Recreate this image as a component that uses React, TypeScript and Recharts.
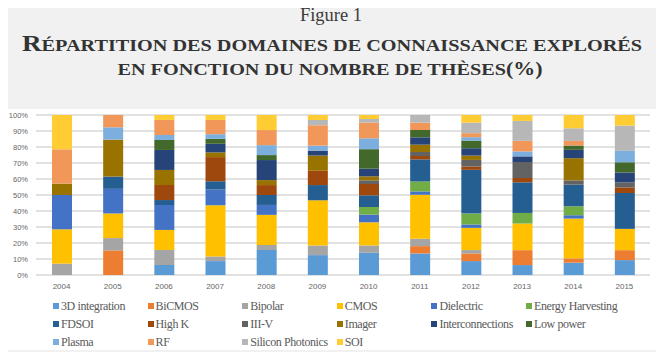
import React from "react";
import { BarChart, Bar, XAxis, YAxis, CartesianGrid } from "recharts";

const years = ["2004", "2005", "2006", "2007", "2008", "2009", "2010", "2011", "2012", "2013", "2014", "2015"];

const threeD = [0, 0, 6.25, 8.7, 15.6, 12.4, 13.9, 13.5, 8.7, 6.2, 7.7, 9.3];
const biCMOS = [0, 15.4, 0, 0, 0, 0, 0, 4.6, 4.8, 9.3, 2.7, 6.2];
const bipolar = [7.1, 7.7, 9.4, 2.9, 3.1, 6.0, 4.6, 4.6, 2.1, 0, 0, 0];
const cmos = [21.4, 15.4, 12.5, 32.0, 18.8, 28.2, 14.5, 27.6, 13.9, 16.6, 24.9, 13.3];
const dielectric = [21.4, 15.4, 15.6, 9.8, 6.2, 0, 4.8, 2.1, 2.1, 0, 2.1, 0];
const energyHarvesting = [0, 0, 0, 0, 0, 0, 4.8, 6.2, 6.8, 6.6, 5.6, 0];
const fdsoi = [0, 7.7, 3.1, 5.2, 6.2, 9.5, 7.3, 13.9, 27.4, 19.1, 13.5, 22.4];
const highK = [0, 0, 9.4, 15.1, 6.2, 8.9, 7.1, 2.1, 2.1, 2.7, 0, 3.5];
const iiiV = [0, 0, 0, 0, 0, 0, 2.3, 2.5, 4.1, 10.0, 2.7, 3.1];
const imager = [7.1, 23.1, 9.4, 2.9, 3.1, 9.5, 2.5, 4.6, 2.7, 0, 13.9, 0];
const interconnections = [0, 0, 12.5, 5.4, 12.5, 3.1, 4.8, 4.6, 4.6, 3.5, 5.2, 6.2];
const lowPower = [0, 0, 6.25, 3.1, 3.1, 0, 12.2, 4.6, 4.8, 0, 2.7, 6.4];
const plasma = [0, 7.7, 3.1, 2.9, 6.2, 3.1, 6.8, 0, 2.1, 3.1, 0, 7.1];
const rf = [21.4, 7.7, 9.4, 8.9, 9.4, 12.7, 9.8, 4.6, 2.5, 6.6, 2.9, 0];
const siliconPhotonics = [0, 0, 0, 0, 0, 3.3, 2.3, 4.8, 6.6, 12.4, 7.9, 15.8];
const soi = [21.4, 0, 3.1, 3.1, 9.4, 3.1, 2.5, 0, 4.8, 3.7, 8.3, 6.6];

const yTicks = [0, 0.1, 0.2, 0.3, 0.4, 0.5, 0.6, 0.7, 0.8, 0.9, 1];

const series = [
  { key: "s0", name: "3D integration", values: threeD, color: "#5B9BD5" },
  { key: "s1", name: "BiCMOS", values: biCMOS, color: "#ED7D31" },
  { key: "s2", name: "Bipolar", values: bipolar, color: "#A5A5A5" },
  { key: "s3", name: "CMOS", values: cmos, color: "#FFC000" },
  { key: "s4", name: "Dielectric", values: dielectric, color: "#4472C4" },
  { key: "s5", name: "Energy Harvesting", values: energyHarvesting, color: "#70AD47" },
  { key: "s6", name: "FDSOI", values: fdsoi, color: "#255E91" },
  { key: "s7", name: "High K", values: highK, color: "#9E480E" },
  { key: "s8", name: "III-V", values: iiiV, color: "#636363" },
  { key: "s9", name: "Imager", values: imager, color: "#997300" },
  { key: "s10", name: "Interconnections", values: interconnections, color: "#264478" },
  { key: "s11", name: "Low power", values: lowPower, color: "#43682B" },
  { key: "s12", name: "Plasma", values: plasma, color: "#7CAFDD" },
  { key: "s13", name: "RF", values: rf, color: "#F1975A" },
  { key: "s14", name: "Silicon Photonics", values: siliconPhotonics, color: "#B7B7B7" },
  { key: "s15", name: "SOI", values: soi, color: "#FFCD33" },
];

const data = years.map((y, i) => {
  const row: any = { year: y };
  series.forEach((s) => {
    row[s.key] = s.values[i];
  });
  return row;
});

export default function App() {
  return (
    <div
      style={{
        position: "relative",
        width: 664,
        height: 360,
        margin: -8,
        background: "#f1f1f1",
        overflow: "hidden",
      }}
    >
      <svg width={664} height={100} style={{ position: "absolute", left: 0, top: 0 }}>
        <text
          x={331}
          y={21}
          textAnchor="middle"
          fontFamily="Liberation Serif"
          fontSize={18.5}
          fill="#3a3a3a"
        >
          Figure 1
        </text>
        <text
          x={332}
          y={51}
          textAnchor="middle"
          fontFamily="Liberation Serif"
          fontWeight="bold"
          fill="#333"
          textLength={620}
          lengthAdjust="spacingAndGlyphs"
        >
          <tspan fontSize={23.5}>R</tspan>
          <tspan fontSize={17.5}>ÉPARTITION DES DOMAINES DE CONNAISSANCE EXPLORÉS</tspan>
        </text>
        <text
          x={330}
          y={74.5}
          textAnchor="middle"
          fontFamily="Liberation Serif"
          fontWeight="bold"
          fill="#333"
          textLength={425}
          lengthAdjust="spacingAndGlyphs"
        >
          <tspan fontSize={17.5}>EN FONCTION DU NOMBRE DE THÈSES</tspan>
          <tspan fontSize={19}>(%)</tspan>
        </text>
      </svg>
      <div
        style={{
          position: "absolute",
          left: 6,
          top: 109,
          width: 650,
          height: 241,
          background: "#ffffff",
        }}
      />
      <div style={{ position: "absolute", left: 0, top: 0 }}>
        <BarChart
          width={664}
          height={300}
          data={data}
          stackOffset="expand"
          margin={{ top: 115, right: 14, left: 8, bottom: 5 }}
        >
          <CartesianGrid vertical={false} stroke="#c4c4c4" strokeWidth={1} />
          <XAxis
            dataKey="year"
            axisLine={false}
            tickLine={false}
            tickSize={0}
            tickMargin={8}
            height={20}
            interval={0}
            tick={{ fontFamily: "Liberation Sans", fontSize: 8, fill: "#666" }}
          />
          <YAxis
            width={28}
            domain={[0, 1]}
            ticks={yTicks}
            axisLine={false}
            tickLine={false}
            tickSize={0}
            tickMargin={8}
            interval={0}
            tickFormatter={(v: number) => `${Math.round(v * 100)}%`}
            tick={{ fontFamily: "Liberation Sans", fontSize: 7.5, fill: "#666" }}
          />
          {series.map((s) => (
            <Bar
              key={s.key}
              dataKey={s.key}
              name={s.name}
              stackId="a"
              fill={s.color}
              barSize={20}
              isAnimationActive={false}
            />
          ))}
        </BarChart>
      </div>
      {series.map((s, i) => {
        const col = i % 6;
        const row = Math.floor(i / 6);
        return (
          <div
            key={s.key}
            style={{
              position: "absolute",
              left: 53 + col * 94.6,
              top: 299 + row * 18,
              height: 14,
              display: "flex",
              alignItems: "center",
              whiteSpace: "nowrap",
              fontFamily: "Liberation Serif",
              fontSize: 12,
              letterSpacing: -0.4,
              color: "#5a5a5a",
            }}
          >
            <span
              style={{
                display: "inline-block",
                width: 6,
                height: 6,
                background: s.color,
                marginRight: 2,
              }}
            />
            {s.name}
          </div>
        );
      })}
    </div>
  );
}
